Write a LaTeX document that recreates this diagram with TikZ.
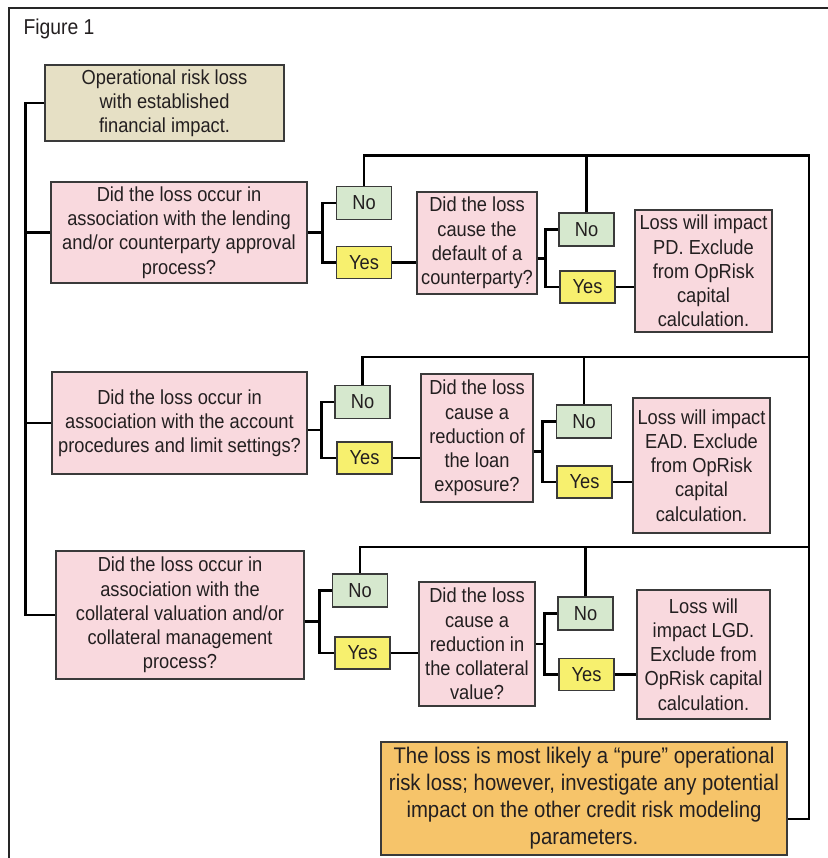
\documentclass[tikz,border=0pt]{standalone}
\usepackage{fontspec}
\setmainfont{Liberation Sans}[FakeStretch=0.9]
\usetikzlibrary{calc}

\definecolor{ink}{HTML}{231F20}
\definecolor{boxline}{HTML}{3A3A3A}
\definecolor{tanfill}{HTML}{E6E0C5}
\definecolor{pinkfill}{HTML}{F9D9DE}
\definecolor{nofill}{HTML}{D6E8CE}
\definecolor{yesfill}{HTML}{F7F06E}
\definecolor{orangefill}{HTML}{F6C46A}

\begin{document}
\begin{tikzpicture}[x=1pt,y=-1pt,
    box/.style={draw=boxline,line width=1.3pt,inner sep=0pt,align=center,text=ink,
      font=\fontsize{20.3}{24.2}\selectfont},
    startbox/.style={box,fill=tanfill},
    qbox/.style={box,fill=pinkfill},
    nobox/.style={box,fill=nofill,minimum width=55pt,minimum height=33pt},
    yesbox/.style={box,fill=yesfill,minimum width=55pt,minimum height=32pt},
    endbox/.style={box,fill=orangefill,font=\fontsize{22.6}{27}\selectfont},
    wire/.style={line width=2.8pt,draw=black}]
  \useasboundingbox (0,0) rectangle (827,858);
  \draw[line width=1.8pt,draw=black!85] (9,862) -- (9,8) -- (830,8);
  \node[anchor=west,text=ink,font=\fontsize{21.5}{24}\selectfont] (title) at (20,29) {Figure 1};

  \node[startbox,minimum width=239pt,minimum height=76pt] (start) at (164.5,103)
    {Operational risk loss\\with established\\financial impact.};

  \node[qbox,minimum width=256pt,minimum height=101pt] (q1) at (179,232.5)
    {Did the loss occur in\\association with the lending\\and/or counterparty approval\\process?};
  \node[nobox] (q1no) at (364,203) {No};
  \node[yesbox] (q1yes) at (364,262.5) {Yes};
  \node[qbox,minimum width=120pt,minimum height=102pt] (q1b) at (477,243)
    {Did the loss\\cause the\\default of a\\counterparty?};
  \node[nobox] (r1no) at (586.5,229.5) {No};
  \node[yesbox] (r1yes) at (587.5,287) {Yes};
  \node[qbox,minimum width=137pt,minimum height=122pt] (res1) at (703.5,271)
    {Loss will impact\\PD. Exclude\\from OpRisk\\capital\\calculation.};

  \node[qbox,minimum width=255pt,minimum height=102pt] (q2) at (179.5,423)
    {Did the loss occur in\\association with the account\\procedures and limit settings?};
  \node[nobox] (q2no) at (362.5,402) {No};
  \node[yesbox] (q2yes) at (364.5,458) {Yes};
  \node[qbox,minimum width=112pt,minimum height=128pt] (q2b) at (477,438)
    {Did the loss\\cause a\\reduction of\\the loan\\exposure?};
  \node[nobox] (r2no) at (584,421.5) {No};
  \node[yesbox] (r2yes) at (584.5,482) {Yes};
  \node[qbox,minimum width=137pt,minimum height=135pt] (res2) at (701.5,465.5)
    {Loss will impact\\EAD. Exclude\\from OpRisk\\capital\\calculation.};

  \node[qbox,minimum width=248pt,minimum height=128pt] (q3) at (180,615)
    {Did the loss occur in\\association with the\\collateral valuation and/or\\collateral management\\process?};
  \node[nobox] (q3no) at (360,590.5) {No};
  \node[yesbox] (q3yes) at (362.5,653) {Yes};
  \node[qbox,minimum width=116pt,minimum height=124pt] (q3b) at (477,644)
    {Did the loss\\cause a\\reduction in\\the collateral\\value?};
  \node[nobox] (r3no) at (585.5,613.5) {No};
  \node[yesbox] (r3yes) at (586.5,674.5) {Yes};
  \node[qbox,minimum width=133pt,minimum height=129pt] (res3) at (703.5,654.5)
    {Loss will\\impact LGD.\\Exclude from\\OpRisk capital\\calculation.};

  \node[endbox,minimum width=406pt,minimum height=113pt] (pure) at (584,798.5)
    {The loss is most likely a ``pure'' operational\\risk loss; however, investigate any potential\\impact on the other credit risk modeling\\parameters.};

  \coordinate (spine) at (25.5,103);
  \coordinate (rail) at (809,155.5);
  \coordinate (top2) at (809,357);
  \coordinate (top3) at (809,547);
  \coordinate (railend) at (809,819);
  \coordinate (j1) at ($(q1no.west)!.5!(q1yes.west)+(-13.5,0)$);
  \coordinate (j2) at ($(q2no.west)!.5!(q2yes.west)+(-13.5,0)$);
  \coordinate (j3) at ($(q3no.west)!.5!(q3yes.west)+(-13.5,0)$);
  \coordinate (k1) at ($(r1no.west)!.5!(r1yes.west)+(-13.5,0)$);
  \coordinate (k2) at ($(r2no.west)!.5!(r2yes.west)+(-13.5,0)$);
  \coordinate (k3) at ($(r3no.west)!.5!(r3yes.west)+(-13.5,0)$);

  \begin{scope}[wire]
    \draw (start.west) -- (spine) |- (q3.west);
    \draw (q1.west) -- (q1.west -| spine);
    \draw (q2.west) -- (q2.west -| spine);

    \draw (q1.east |- j1) -- (j1);
    \draw (q1no.west) -| (j1) |- (q1yes.west);
    \draw (q1yes.east) -- (q1yes.east -| q1b.west);
    \draw (q1b.east |- k1) -- (k1);
    \draw (r1no.west) -| (k1) |- (r1yes.west);
    \draw (r1yes.east) -- (r1yes.east -| res1.west);
    \draw (q1no.north) |- (rail) -- (railend) -- (railend -| pure.east);
    \draw (r1no.north) -- (r1no.north |- rail);

    \draw (q2.east |- j2) -- (j2);
    \draw (q2no.west) -| (j2) |- (q2yes.west);
    \draw (q2yes.east) -- (q2yes.east -| q2b.west);
    \draw (q2b.east |- k2) -- (k2);
    \draw (r2no.west) -| (k2) |- (r2yes.west);
    \draw (r2yes.east) -- (r2yes.east -| res2.west);
    \draw (q2no.north) |- (top2);
    \draw (r2no.north) -- (r2no.north |- top2);

    \draw (q3.east |- j3) -- (j3);
    \draw (q3no.west) -| (j3) |- (q3yes.west);
    \draw (q3yes.east) -- (q3yes.east -| q3b.west);
    \draw (q3b.east |- k3) -- (k3);
    \draw (r3no.west) -| (k3) |- (r3yes.west);
    \draw (r3yes.east) -- (r3yes.east -| res3.west);
    \draw (q3no.north) |- (top3);
    \draw (r3no.north) -- (r3no.north |- top3);
  \end{scope}
\end{tikzpicture}
\end{document}
